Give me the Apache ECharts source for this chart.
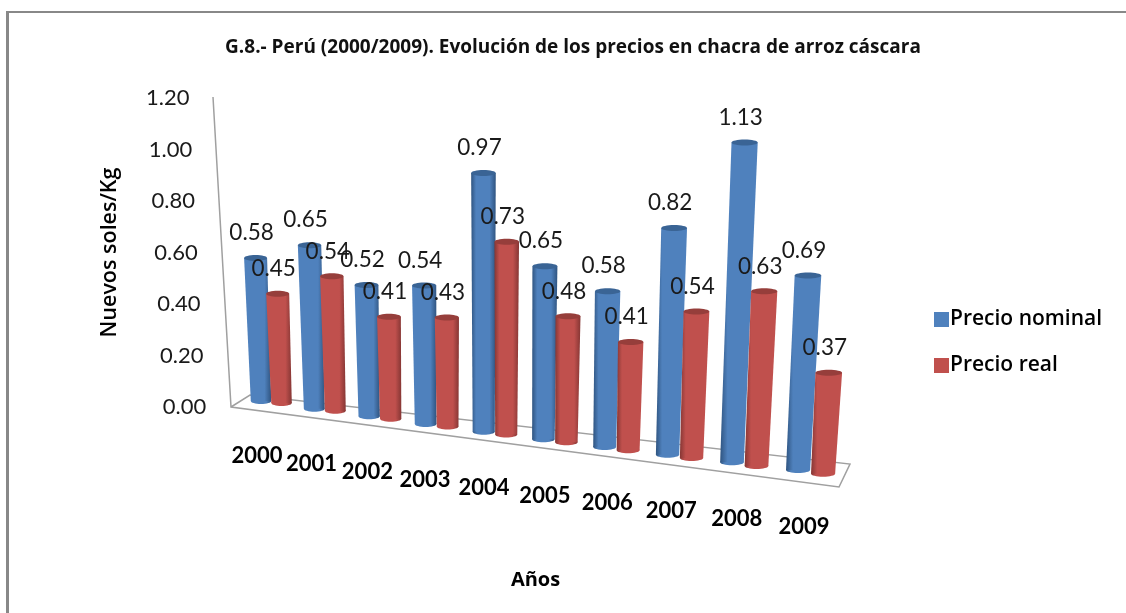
<!DOCTYPE html>
<html>
<head>
<meta charset="utf-8">
<title>Precios en chacra de arroz cáscara</title>
<script src="https://cdn.jsdelivr.net/npm/echarts@6/dist/echarts.min.js"></script>
<style>
  html, body { margin: 0; padding: 0; background: #fff; }
  #chart { width: 1126px; height: 613px; }
</style>
</head>
<body>
<div id="chart"></div>
<script>
const years = ['2000', '2001', '2002', '2003', '2004', '2005', '2006', '2007', '2008', '2009'];
const nominal = [0.58, 0.65, 0.52, 0.54, 0.97, 0.65, 0.58, 0.82, 1.13, 0.69];
const real = [0.45, 0.54, 0.41, 0.43, 0.73, 0.48, 0.41, 0.54, 0.63, 0.37];
const yTicks = [0, 0.2, 0.4, 0.6, 0.8, 1, 1.2];

const fontName = 'Lato';
const wideFont = 'Open Sans';
const chart = echarts.init(document.getElementById('chart'));

// the picture is a tilted 3D chart: each category sits lower and a bit larger than the last
function cylinder(api, row, colors) {
  const i = api.value(0);
  const v = api.value(1);
  const base = api.coord([i, 0]);
  const unit = api.size([0, 1])[1];

  const xb = base[0] + 0.8 * i * (i - 9) + (row ? 20.5 + 0.5 * i : 0);
  const yb = base[1] - 3 + 7.67 * i + (row ? 2 + 0.2 * i : 0);
  const h = v * unit * (0.99 + 0.0144 * i) * (1 + 0.012 * v);
  const xt = xb + (xb - 490) * 1.6e-4 * h;
  const yt = yb - h;
  const wb = 20.5 + 0.4 * i;
  const wt = wb + 2.5;
  const ry = 3;

  // shadow moves from the right edge to the left edge across the chart
  const edgeL = i / 9;
  const fill = new echarts.graphic.LinearGradient(0, 0, 1, 0, [
    { offset: 0, color: edgeL > 0.4 ? colors.dark : colors.main },
    { offset: 0.2, color: colors.main },
    { offset: 0.75, color: colors.main },
    { offset: 1, color: edgeL < 0.6 ? colors.dark : colors.main }
  ]);

  return {
    type: 'group',
    children: [
      { type: 'ellipse', shape: { cx: xb, cy: yb - ry, rx: wb / 2, ry: ry }, style: { fill: fill } },
      {
        type: 'polygon',
        shape: {
          points: [
            [xt - wt / 2, yt + ry],
            [xt + wt / 2, yt + ry],
            [xb + wb / 2, yb - ry],
            [xb - wb / 2, yb - ry]
          ]
        },
        style: { fill: fill }
      },
      { type: 'ellipse', shape: { cx: xt, cy: yt + ry, rx: wt / 2, ry: ry }, style: { fill: colors.cap } },
      {
        type: 'text',
        z2: 50,
        style: {
          x: xt - 4,
          y: yt - 22,
          text: v.toFixed(2),
          align: 'center',
          verticalAlign: 'middle',
          font: '22.5px ' + fontName,
          fill: '#1a1a1a'
        }
      }
    ]
  };
}

const blue = { main: '#4f81bd', dark: '#2f5480', cap: '#3a6495' };
const red = { main: '#c0504d', dark: '#853634', cap: '#963e3b' };

// per-label paddings push the axis labels along the tilted axes
const yRich = {};
yTicks.forEach(function (t, k) {
  yRich['t' + k] = { fontFamily: fontName, fontSize: 22, color: '#1a1a1a', padding: [0, t * 14, 0, 0] };
});
const xRich = {};
years.forEach(function (y, k) {
  const shift = -4 + 1.1 * k + 0.8 * k * (k - 9);
  xRich['c' + k] = {
    fontFamily: fontName,
    fontSize: 22,
    fontWeight: 'bold',
    color: '#000',
    padding: [7.9 * k, shift < 0 ? -2 * shift : 0, 0, shift > 0 ? 2 * shift : 0]
  };
});

const option = {
  backgroundColor: '#fff',
  animation: false,
  title: {
    text: 'G.8.- Perú (2000/2009). Evolución de los precios en chacra de arroz cáscara',
    left: 568,
    top: 33,
    textAlign: 'center',
    textStyle: { fontFamily: wideFont, fontSize: 19, fontWeight: 'bold', color: '#111' }
  },
  legend: {
    orient: 'vertical',
    left: 929,
    top: 304,
    icon: 'rect',
    itemWidth: 15,
    itemHeight: 15,
    itemGap: 25,
    textStyle: { fontFamily: wideFont, fontSize: 21, fontWeight: 600, color: '#000', padding: [0, 0, 0, -4] },
    data: ['Precio nominal', 'Precio real']
  },
  graphic: [
    { type: 'line', z: 0, shape: { x1: 6, y1: 12, x2: 1126, y2: 12 }, style: { stroke: '#888', lineWidth: 2 } },
    { type: 'line', z: 0, shape: { x1: 7.5, y1: 11, x2: 7.5, y2: 613 }, style: { stroke: '#888', lineWidth: 3 } },
    { type: 'polyline', z: 0, shape: { points: [[213, 97], [231, 407], [839, 487], [850, 464], [250, 395], [231, 407]] }, style: { fill: 'none', stroke: '#a0a0a0', lineWidth: 1.5 } }
  ],
  grid: { left: 231.2, top: 98, width: 596.7, height: 309, outerBoundsMode: 'none' },
  xAxis: {
    type: 'category',
    data: years,
    name: 'Años',
    nameLocation: 'middle',
    nameGap: 163,
    nameTextStyle: { fontFamily: wideFont, fontSize: 20, fontWeight: 'bold', color: '#000', padding: [0, 0, 0, 12] },
    axisLine: { show: false },
    axisTick: { show: false },
    axisLabel: {
      interval: 0,
      margin: 38,
      verticalAlign: 'top',
      rich: xRich,
      formatter: function (value, index) {
        return '{c' + index + '|' + value + '}';
      }
    }
  },
  yAxis: {
    type: 'value',
    min: 0,
    max: 1.2,
    interval: 0.2,
    name: 'Nuevos soles/Kg',
    nameLocation: 'middle',
    nameGap: 110,
    nameRotate: 90,
    nameTextStyle: { fontFamily: wideFont, fontSize: 21.5, fontWeight: 600, color: '#000' },
    axisLine: { show: false },
    axisTick: { show: false },
    splitLine: { show: false },
    axisLabel: {
      margin: 25,
      rich: yRich,
      formatter: function (value, index) {
        return '{t' + index + '|' + value.toFixed(2) + '}';
      }
    }
  },
  series: [
    {
      name: 'Precio nominal',
      type: 'custom',
      itemStyle: { color: blue.main },
      encode: { x: 0, y: 1 },
      data: nominal.map(function (v, i) { return [i, v]; }),
      renderItem: function (params, api) { return cylinder(api, 0, blue); }
    },
    {
      name: 'Precio real',
      type: 'custom',
      itemStyle: { color: red.main },
      encode: { x: 0, y: 1 },
      data: real.map(function (v, i) { return [i, v]; }),
      renderItem: function (params, api) { return cylinder(api, 1, red); }
    }
  ]
};

chart.setOption(option);
</script>
</body>
</html>
